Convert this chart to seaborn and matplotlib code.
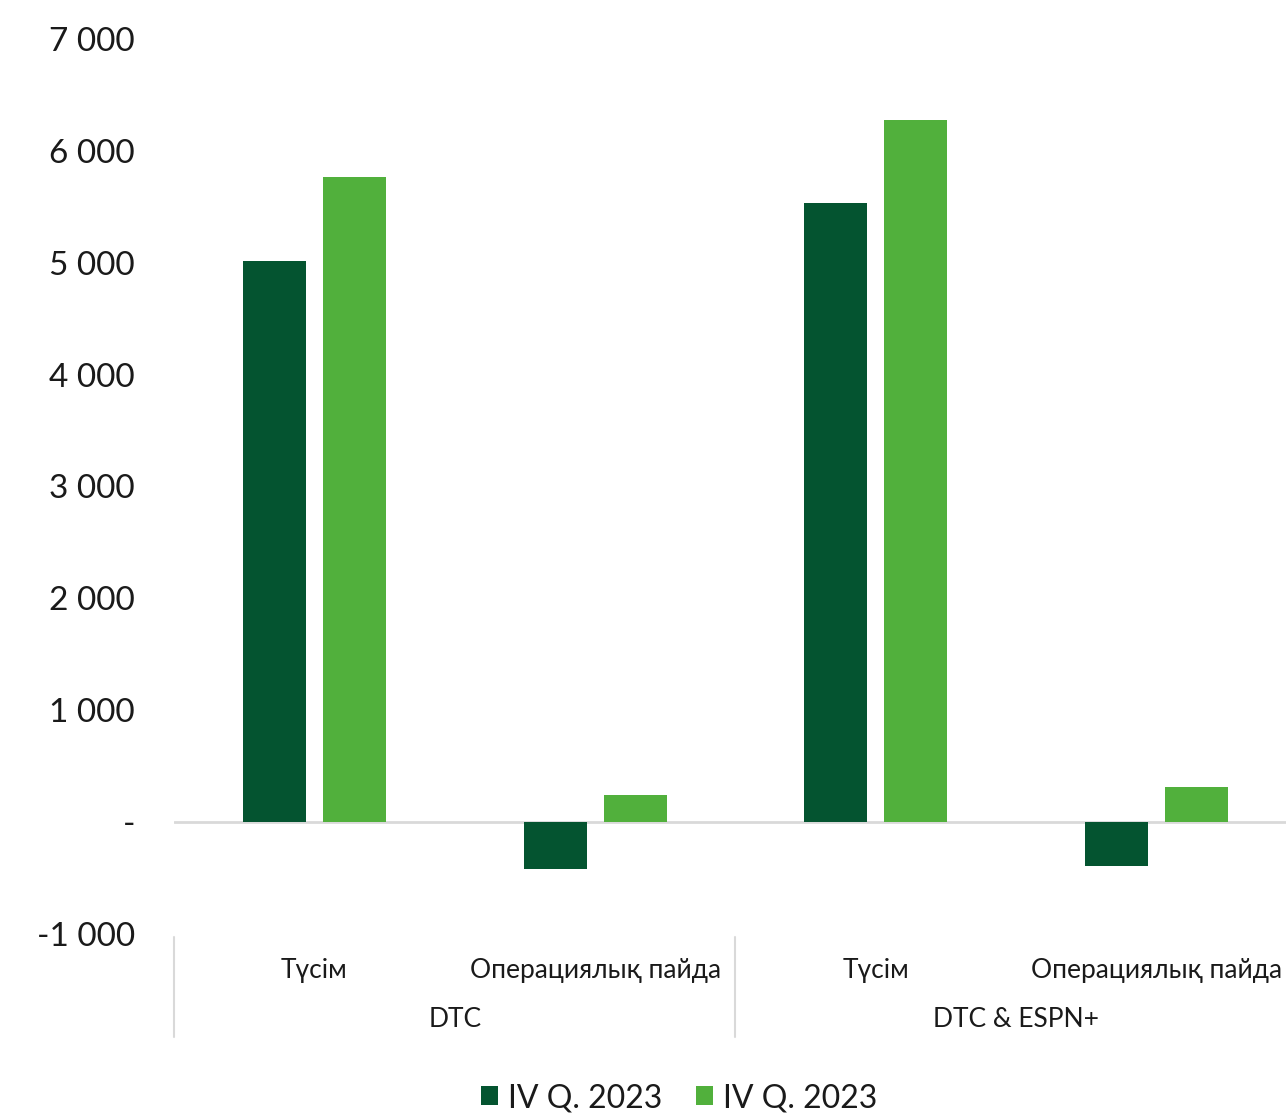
import matplotlib
matplotlib.use("Agg")
import matplotlib.pyplot as plt
import matplotlib.transforms as mtransforms
import seaborn as sns
import pandas as pd

# ---- data ----
groups = ["DTC", "DTC", "DTC & ESPN+", "DTC & ESPN+"]
sub_labels = ["Түсім", "Операциялық пайда", "Түсім", "Операциялық пайда"]
series_labels = ["IV Q. 2023", "IV Q. 2023"]
series_a = [5020, -420, 5535, -390]
series_b = [5770, 240, 6280, 315]
y_ticks = [-1000, 0, 1000, 2000, 3000, 4000, 5000, 6000, 7000]
y_tick_labels = ["-1 000", "-", "1 000", "2 000", "3 000", "4 000", "5 000", "6 000", "7 000"]

colors = ["#045430", "#51B03C"]

keys = [f"{g}|{s}|{i}" for i, (g, s) in enumerate(zip(groups, sub_labels))]
df = pd.DataFrame({
    "cat": keys * 2,
    "value": series_a + series_b,
    "series": ["a"] * 4 + ["b"] * 4,
})

sns.set_theme(style="white")
plt.rcParams["font.family"] = ["Lato", "DejaVu Sans"]

fig = plt.figure(figsize=(12.86, 11.13), dpi=100)
ax_w = 1123 / 1286
ax = fig.add_axes([174 / 1286, 1 - 934 / 1113, ax_w, (934 - 39) / 1113])

sns.barplot(data=df, x="cat", y="value", hue="series", order=keys,
            palette=colors, saturation=1, width=0.57, gap=0.2125, linewidth=0,
            ax=ax, legend=True)

ax.set_xlim(-0.5, 3.5)
ax.set_ylim(-1000, 7000)
ax.set_yticks(y_ticks)
ax.set_yticklabels(y_tick_labels, fontsize=24, color="#1a1a1a")
ax.tick_params(axis="y", length=0, pad=28)
ax.set_xticks([])
ax.set_xlabel("")
ax.set_ylabel("")
for sp in ax.spines.values():
    sp.set_visible(False)

ax.axhline(0, color="#D9D9D9", linewidth=2, zorder=0)

trans = mtransforms.blended_transform_factory(ax.transData, ax.transAxes)
for i, s in enumerate(sub_labels):
    ax.text(i, -0.041, s, transform=trans, ha="center", va="center",
            fontsize=19, color="#1a1a1a", clip_on=False)

# group labels and separators
unique_groups = []
for g in groups:
    if g not in unique_groups:
        unique_groups.append(g)
for g in unique_groups:
    idx = [i for i, gg in enumerate(groups) if gg == g]
    center = (idx[0] + idx[-1]) / 2
    ax.text(center, -0.096, g, transform=trans, ha="center", va="center",
            fontsize=19, color="#1a1a1a", clip_on=False)
for xb in [-0.5, 1.5, 3.5]:
    ax.plot([xb, xb], [-0.0034, -0.1155], transform=trans, color="#D9D9D9",
            linewidth=1.5, clip_on=False)

handles, _ = ax.get_legend_handles_labels()
ax.get_legend().remove()
fig.legend(handles, series_labels, loc="center", bbox_to_anchor=(679 / 1286, 1 - 1098 / 1113),
           ncol=2, frameon=False, fontsize=23, handlelength=0.55, handleheight=0.55,
           handletextpad=0.3, columnspacing=1.05, labelcolor="#1a1a1a")

fig.savefig("out.png", dpi=100)
